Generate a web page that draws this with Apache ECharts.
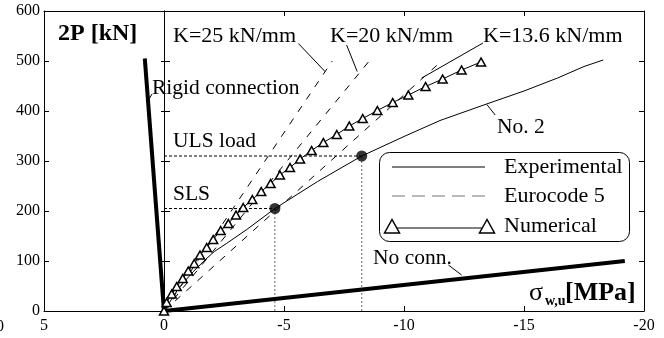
<!DOCTYPE html>
<html><head><meta charset="utf-8">
<script src="https://cdn.jsdelivr.net/npm/echarts@6/dist/echarts.min.js"></script>
<style>html,body{margin:0;padding:0;background:#fff}#c{width:664px;height:338px}</style>
</head><body><div id="c"></div>
<script>
// ---- data (x: stress sigma_w,u [MPa], y: 2P [kN]) ----
const xTickLabels = ['5','0','-5','-10','-15','-20'];
const yTickLabels = ['0','100','200','300','400','500','600'];
const rigidConnection = [[0,0],[0.8,505]];
const noConnection = [[0,0],[-19.2,100]];
const eurocodeK25 = [[0,0],[-7.01,500]];
const eurocodeK20 = [[0,0],[-8.55,500]];
const eurocodeK136 = [[0,0],[-11.5,497]];
const experimentalX = [0,-0.6,-1.2,-1.75,-2.1,-2.6,-3.45,-4.62,-6.4,-8.24,-10,-11.5,-13.5,-15,-16.4,-17.5,-18.3];
const experimentalY = [0,45,78,104,119,135,163,205,259,310,349,381,415,440,466,489,502];
const numericalX = [0,-0.11,-0.32,-0.53,-0.78,-1.01,-1.26,-1.5,-1.78,-2.05,-2.36,-2.68,-3.0,-3.3,-3.68,-4.05,-4.44,-4.83,-5.25,-5.67,-6.15,-6.64,-7.2,-7.72,-8.28,-8.89,-9.53,-10.18,-10.9,-11.61,-12.4,-13.21];
const numericalY = [0,17,34,49,65,80,95,112,127,143,161,175,192,207,223,239,255,272,287,304,321,337,353,370,385,401,417,432,449,464,482,498];
const slsPoint = [-4.62,205];
const ulsPoint = [-8.24,310];
const leaderK25 = [[-5.6,535],[-6.71,479]];
const leaderK20 = [[-7.61,532],[-8.05,479]];
const leaderK136 = [[-13.29,536],[-10.74,466]];
const leaderRigid = [[0.5,434],[0.67,420]];
const leaderNo2 = [[-13.45,413],[-13.8,392]];
const leaderNoConn = [[-11.85,92],[-12.4,72]];

const FONT = 'Liberation Serif';
const zip = (xs, ys) => xs.map((x,i)=>[x, ys[i]]);

function lineS(data, opts) {
  return Object.assign({type:'line', data, symbol:'none', silent:true, animation:false,
    lineStyle:{color:'#000', width:1}}, opts||{});
}

const axisBase = {type:'value', splitLine:{show:false},
  axisLine:{show:true, onZero:false, lineStyle:{color:'#000', width:1}},
  axisTick:{show:true, inside:true, length:5, lineStyle:{color:'#000'}},
  axisLabel:{show:false}};

const chart = echarts.init(document.getElementById('c'), null, {renderer:'canvas'});
chart.setOption({
  animation:false,
  backgroundColor:'#fff',
  grid:{left:44, top:11, width:600, height:300},
  xAxis:[
    Object.assign({}, axisBase, {min:-20, max:5, interval:5, inverse:true, position:'bottom',
      axisLabel:{show:true, color:'#000', fontFamily:FONT, fontSize:16, margin:7,
        formatter:(v)=>xTickLabels[Math.round((5-v)/5)]}}),
    Object.assign({}, axisBase, {min:-20, max:5, interval:5, inverse:true, position:'top'})
  ],
  yAxis:[
    Object.assign({}, axisBase, {min:0, max:600, interval:100, position:'left',
      axisLabel:{show:true, color:'#000', fontFamily:FONT, fontSize:16, margin:4,
        formatter:(v)=>yTickLabels[Math.round(v/100)]}}),
    Object.assign({}, axisBase, {min:0, max:600, interval:100, position:'right'}),
    Object.assign({}, axisBase, {min:0, max:600, interval:100, position:'left',
      axisLine:{show:true, onZero:true, onZeroAxisIndex:0, lineStyle:{color:'#000', width:1}},
      axisTick:{show:true, inside:true, length:6, lineStyle:{color:'#000'}}}),
    Object.assign({}, axisBase, {min:0, max:600, interval:100, position:'left',
      axisLine:{show:true, onZero:true, onZeroAxisIndex:0, lineStyle:{color:'#000', width:1}},
      axisTick:{show:true, inside:false, length:3, lineStyle:{color:'#000'}}})
  ],
  series:[
    lineS([[0,slsPoint[1]],slsPoint], {lineStyle:{color:'#000', width:1, type:[3,2]}}),
    lineS([[0,ulsPoint[1]],ulsPoint], {lineStyle:{color:'#000', width:1, type:[3,2]}}),
    lineS([[slsPoint[0],0],slsPoint], {lineStyle:{color:'#666', width:1, type:[2,2]}}),
    lineS([[ulsPoint[0],0],ulsPoint], {lineStyle:{color:'#666', width:1, type:[2,2]}}),
    lineS(eurocodeK25, {lineStyle:{color:'#000', width:1, type:[7,8]}}),
    lineS(eurocodeK20, {lineStyle:{color:'#000', width:1, type:[7,8]}}),
    lineS(eurocodeK136, {lineStyle:{color:'#000', width:1, type:[7,8]}}),
    lineS(zip(experimentalX, experimentalY), {lineStyle:{color:'#000', width:1}}),
    {type:'line', data:zip(numericalX, numericalY), symbol:'triangle', symbolSize:[9,8], showSymbol:true,
      silent:true, animation:false, lineStyle:{color:'#000', width:1},
      itemStyle:{color:'#fff', borderColor:'#000', borderWidth:1.5}},
    lineS(rigidConnection, {lineStyle:{color:'#000', width:4}}),
    lineS(noConnection, {lineStyle:{color:'#000', width:4}}),
    lineS(leaderK25), lineS(leaderK20), lineS(leaderK136), lineS(leaderRigid), lineS(leaderNo2), lineS(leaderNoConn),
    {type:'scatter', data:[slsPoint, ulsPoint], symbol:'circle', symbolSize:11, silent:true,
      itemStyle:{color:'#000'}, z:5}
  ],
  graphic:[
    {type:'text', x:58, y:34, style:{text:'2P [kN]', font:'bold 24px "Liberation Serif"', fill:'#000', textVerticalAlign:'middle', textAlign:'left'}},
    {type:'text', x:173, y:36, style:{text:'K=25 kN/mm', font:'22px "Liberation Serif"', fill:'#000', textVerticalAlign:'middle'}},
    {type:'text', x:330, y:36, style:{text:'K=20 kN/mm', font:'22px "Liberation Serif"', fill:'#000', textVerticalAlign:'middle'}},
    {type:'text', x:483, y:36, style:{text:'K=13.6 kN/mm', font:'22px "Liberation Serif"', fill:'#000', textVerticalAlign:'middle'}},
    {type:'text', x:152, y:88, style:{text:'Rigid connection', font:'21.5px "Liberation Serif"', fill:'#000', textVerticalAlign:'middle'}},
    {type:'text', x:173, y:141, style:{text:'ULS load', font:'21.5px "Liberation Serif"', fill:'#000', textVerticalAlign:'middle'}},
    {type:'text', x:173, y:194, style:{text:'SLS', font:'21.5px "Liberation Serif"', fill:'#000', textVerticalAlign:'middle'}},
    {type:'text', x:497, y:127, style:{text:'No. 2', font:'21.5px "Liberation Serif"', fill:'#000', textVerticalAlign:'middle'}},
    {type:'text', x:373, y:258, style:{text:'No conn.', font:'21.5px "Liberation Serif"', fill:'#000', textVerticalAlign:'middle'}},
    {type:'text', x:529, y:293, style:{text:'σ', font:'26px "Liberation Serif"', fill:'#000', textVerticalAlign:'middle'}},
    {type:'text', x:545, y:301, style:{text:'w,u', font:'bold 14px "Liberation Serif"', fill:'#000', textVerticalAlign:'middle'}},
    {type:'text', x:565, y:293, style:{text:'[MPa]', font:'bold 26px "Liberation Serif"', fill:'#000', textVerticalAlign:'middle'}},
    {type:'text', x:4, y:327, style:{text:'0', font:'16px "Liberation Serif"', fill:'#000', textVerticalAlign:'middle', textAlign:'right'}},
    {type:'rect', shape:{x:379.5, y:152.5, width:250, height:89, r:10}, style:{fill:'#fff', stroke:'#000', lineWidth:1}, z:10},
    {type:'line', shape:{x1:392, y1:167, x2:485, y2:167}, style:{stroke:'#000', lineWidth:1}, z:11},
    {type:'line', shape:{x1:392, y1:196, x2:485, y2:196}, style:{stroke:'#777', lineWidth:1.2, lineDash:[13,7]}, z:11},
    {type:'line', shape:{x1:392, y1:228, x2:487, y2:228}, style:{stroke:'#000', lineWidth:1}, z:11},
    {type:'polygon', shape:{points:[[392,219.5],[384.5,233],[399.5,233]]}, style:{fill:'#fff', stroke:'#000', lineWidth:1.5}, z:12},
    {type:'polygon', shape:{points:[[487,219.5],[479.5,233],[494.5,233]]}, style:{fill:'#fff', stroke:'#000', lineWidth:1.5}, z:12},
    {type:'text', x:504, y:167, style:{text:'Experimental', font:'22px "Liberation Serif"', fill:'#000', textVerticalAlign:'middle'}, z:12},
    {type:'text', x:504, y:196, style:{text:'Eurocode 5', font:'22px "Liberation Serif"', fill:'#000', textVerticalAlign:'middle'}, z:12},
    {type:'text', x:504, y:226, style:{text:'Numerical', font:'22px "Liberation Serif"', fill:'#000', textVerticalAlign:'middle'}, z:12}
  ]
});
</script>
</body></html>
